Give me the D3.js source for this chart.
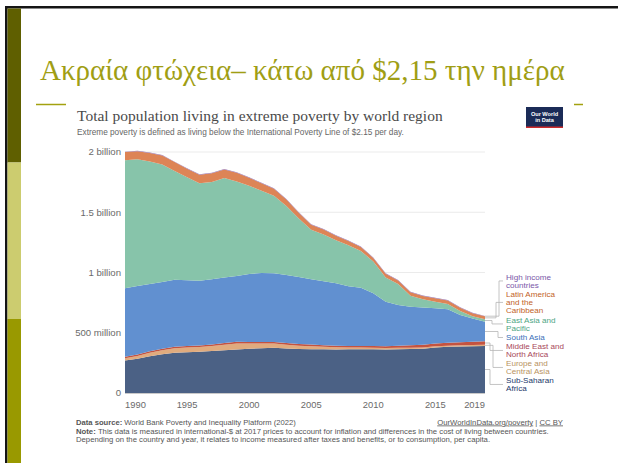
<!DOCTYPE html>
<html><head><meta charset="utf-8">
<script src="https://cdn.jsdelivr.net/npm/d3@7"></script>
<style>body{margin:0;background:#fff;} svg{display:block;}</style>
</head><body>
<svg id="c" width="618" height="463"></svg>
<script>
// ---------- data (millions of people) ----------
const years = [1990,1991,1992,1993,1994,1995,1996,1997,1998,1999,2000,2001,2002,2003,2004,2005,2006,2007,2008,2009,2010,2011,2012,2013,2014,2015,2016,2017,2018,2019];
const subSaharanAfrica = [270,285,305,322,335,338,342,348,355,362,368,372,376,370,366,364,363,362,363,364,363,362,364,366,368,378,383,386,388,390];
const europeCentralAsia = [18,22,28,33,36,40,40,42,46,49,42,38,34,30,26,24,20,17,15,14,13,12,11,10,10,10,10,10,11,11];
const middleEastNorthAfrica = [13,13,13,13,13,13,13,13,14,14,14,14,14,14,14,14,13,13,13,13,14,15,17,20,22,22,24,26,27,28];
const southAsia = [569,568,559,554,556,545,537,542,543,546,564,571,569,566,556,542,532,518,494,483,437,369,338,320,310,293,278,225,192,163];
const eastAsiaPacific = [1061,1052,1016,975,902,855,809,807,827,784,732,684,643,571,486,410,388,358,342,305,264,201,174,91,67,55,44,33,18,19];
const latinAmericaCaribbean = [68,66,70,74,74,70,70,72,70,72,66,62,60,55,48,42,40,38,34,32,30,30,30,30,29,29,29,27,26,25];
const highIncome = [4,4,4,4,4,4,4,4,4,4,4,4,4,4,4,4,4,4,4,4,4,4,4,4,4,4,4,4,4,3];

const seriesKeys = ["ssa","eca","mena","sa","eap","lac","hi"];
const seriesLabels = [["Sub-Saharan","Africa"],["Europe and","Central Asia"],["Middle East and","North Africa"],["South Asia"],["East Asia and","Pacific"],["Latin America","and the","Caribbean"],["High income","countries"]];
const yTickValues = [0,500,1000,1500,2000];
const yTickLabels = ["0","500 million","1 billion","1.5 billion","2 billion"];
const xTickValues = [1990,1995,2000,2005,2010,2015,2019];

// ---------- styles ----------
const areaColors = {ssa:"#4b6185",eca:"#e0ab7e",mena:"#c4533f",sa:"#6190d0",eap:"#87c4aa",lac:"#dd8456",hi:"#8e6bb0"};
const textColors = {ssa:"#23386a",eca:"#b8935f",mena:"#a8475a",sa:"#3a6fb8",eap:"#4ea583",lac:"#c25f28",hi:"#7a58a8"};

const table = years.map((y,i)=>({year:y, ssa:subSaharanAfrica[i], eca:europeCentralAsia[i], mena:middleEastNorthAfrica[i], sa:southAsia[i], eap:eastAsiaPacific[i], lac:latinAmericaCaribbean[i], hi:highIncome[i]}));

const svg = d3.select("#c");
function fit(sel, w){ const n=sel.node(); const l=n.getComputedTextLength(); const fs=parseFloat(sel.attr("font-size")); sel.attr("font-size", fs*w/l); }

// ---------- slide frame ----------
svg.append("rect").attr("x",0).attr("y",0).attr("width",618).attr("height",463).attr("fill","#fff");
svg.append("rect").attr("x",5).attr("y",6).attr("width",613).attr("height",2.5).attr("fill","#151515");
svg.append("rect").attr("x",5).attr("y",6).attr("width",2.5).attr("height",457).attr("fill","#151515");
svg.append("rect").attr("x",7.5).attr("y",8.5).attr("width",13.5).attr("height",154).attr("fill","#5f5f00");
svg.append("rect").attr("x",7.5).attr("y",162.5).attr("width",13.5).attr("height",156.5).attr("fill","#cccc6f");
svg.append("rect").attr("x",7.5).attr("y",319).attr("width",13.5).attr("height",144).attr("fill","#999900");
svg.append("line").attr("x1",36).attr("x2",66).attr("y1",104.5).attr("y2",104.5).attr("stroke","#a3a10f").attr("stroke-width",1.5);
svg.append("line").attr("x1",574).attr("x2",583).attr("y1",104.5).attr("y2",104.5).attr("stroke","#a3a10f").attr("stroke-width",1.5);

const slideTitle = svg.append("text").attr("x",40).attr("y",80).attr("font-family","Liberation Serif, DejaVu Serif, serif").attr("font-size",30).attr("fill","#a09e14").text("Ακραία φτώχεια– κάτω από $2,15 την ημέρα");
fit(slideTitle, 525);

// ---------- chart header ----------
const ct = svg.append("text").attr("x",77).attr("y",121).attr("font-family","Liberation Serif, DejaVu Serif, serif").attr("font-size",15).attr("fill","#4a4a4a").text("Total population living in extreme poverty by world region");
fit(ct, 366);
const st = svg.append("text").attr("x",77).attr("y",134.5).attr("font-family","Liberation Sans, Arial, sans-serif").attr("font-size",7.5).attr("fill","#666").text("Extreme poverty is defined as living below the International Poverty Line of $2.15 per day.");
fit(st, 327);

// logo
svg.append("rect").attr("x",526).attr("y",107).attr("width",37).attr("height",21).attr("fill","#1b2b57");
svg.append("rect").attr("x",526).attr("y",126.5).attr("width",37).attr("height",1.5).attr("fill","#ce2b2b");
svg.append("text").attr("x",544.5).attr("y",115.5).attr("text-anchor","middle").attr("font-family","Liberation Sans, Arial, sans-serif").attr("font-weight","bold").attr("font-size",5.6).attr("fill","#fff").text("Our World");
svg.append("text").attr("x",544.5).attr("y",122).attr("text-anchor","middle").attr("font-family","Liberation Sans, Arial, sans-serif").attr("font-weight","bold").attr("font-size",5.6).attr("fill","#fff").text("in Data");

// ---------- scales ----------
const x = d3.scaleLinear().domain([1990,2019]).range([125,485]);
const y = d3.scaleLinear().domain([0,2000]).range([393,152]);

// gridlines
svg.append("g").selectAll("line").data(yTickValues.slice(1)).join("line")
  .attr("x1",125).attr("x2",485).attr("y1",d=>y(d)).attr("y2",d=>y(d))
  .attr("stroke","#e6e6e6").attr("stroke-width",0.8);

// y labels
svg.append("g").selectAll("text").data(yTickValues).join("text")
  .attr("x",121).attr("y",d=>y(d)).attr("dy","0.35em").attr("text-anchor","end")
  .attr("font-family","Liberation Sans, Arial, sans-serif").attr("font-size",9.6).attr("fill","#6a6a6a")
  .text((d,i)=>yTickLabels[i]);

// stacked areas
const stack = d3.stack().keys(seriesKeys);
const layers = stack(table);
const area = d3.area().x(d=>x(d.data.year)).y0(d=>y(d[0])).y1(d=>y(d[1]));
svg.append("g").selectAll("path").data(layers).join("path")
  .attr("d",area).attr("fill",d=>areaColors[d.key]);

// baseline
svg.append("line").attr("x1",125).attr("x2",485).attr("y1",y(0)+0.5).attr("y2",y(0)+0.5).attr("stroke","#bbb").attr("stroke-width",0.8);

// x labels
svg.append("g").selectAll("text").data(xTickValues).join("text")
  .attr("x",d=>x(d)).attr("y",407.5)
  .attr("text-anchor",(d,i)=> i===0 ? "start" : (i===xTickValues.length-1 ? "end" : "middle"))
  .attr("font-family","Liberation Sans, Arial, sans-serif").attr("font-size",9.4).attr("fill","#6a6a6a")
  .text(d=>d);

// ---------- legend with connectors ----------
const labelFirstY = {ssa:380.5, eca:363.5, mena:346.5, sa:337.5, eap:320, lac:294.5, hi:277};
const elbowX = {ssa:490, eca:493, mena:490, sa:498, eap:492, lac:496, hi:499};
const lineH = 7.9;
const last = table.length-1;
layers.forEach((L,i)=>{
  const k = L.key;
  const d = L[last];
  const sy = y((d[0]+d[1])/2);
  const nLines = seriesLabels[i].length;
  const ly = labelFirstY[k] + (nLines-1)*lineH/2;
  svg.append("path").attr("d",`M${x(2019)},${sy}H${elbowX[k]}V${ly}H503`)
    .attr("fill","none").attr("stroke","#b5b5b5").attr("stroke-width",0.8);
  const t = svg.append("text").attr("x",506).attr("y",labelFirstY[k]).attr("font-family","Liberation Sans, Arial, sans-serif").attr("font-size",8.1).attr("fill",textColors[k]);
  seriesLabels[i].forEach((s,j)=>{ t.append("tspan").attr("x",506).attr("y",labelFirstY[k]+j*lineH).attr("dy","0.35em").text(s); });
});

// ---------- footer ----------
const ff = "Liberation Sans, Arial, sans-serif";
const f1 = svg.append("text").attr("x",76).attr("y",424.5).attr("font-family",ff).attr("font-size",6.5).attr("fill","#555");
f1.append("tspan").attr("font-weight","bold").text("Data source: ");
f1.append("tspan").text("World Bank Poverty and Inequality Platform (2022)");
fit(f1, 220);
const f2 = svg.append("text").attr("x",76).attr("y",433.5).attr("font-family",ff).attr("font-size",6.5).attr("fill","#555");
f2.append("tspan").attr("font-weight","bold").text("Note: ");
f2.append("tspan").text("This data is measured in international-$ at 2017 prices to account for inflation and differences in the cost of living between countries.");
fit(f2, 474);
const f3 = svg.append("text").attr("x",76).attr("y",441.5).attr("font-family",ff).attr("font-size",6.5).attr("fill","#555")
  .text("Depending on the country and year, it relates to income measured after taxes and benefits, or to consumption, per capita.");
fit(f3, 415);
const fr = svg.append("text").attr("x",563).attr("y",424.5).attr("text-anchor","end").attr("font-family",ff).attr("font-size",6.5).attr("fill","#555");
fr.append("tspan").attr("text-decoration","underline").text("OurWorldInData.org/poverty");
fr.append("tspan").text(" | ");
fr.append("tspan").attr("text-decoration","underline").text("CC BY");
fit(fr, 126);
</script>
</body></html>
